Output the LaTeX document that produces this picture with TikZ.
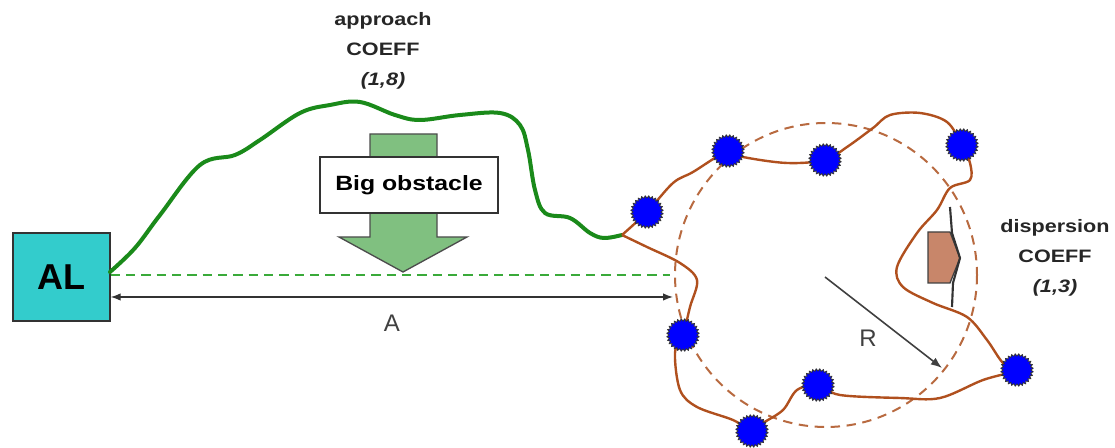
\documentclass[tikz,border=0pt]{standalone}
\usepackage{fontspec}
\setmainfont{Liberation Sans}
\usetikzlibrary{arrows.meta, positioning, shapes.geometric}
\definecolor{alcyan}{HTML}{33CCCC}
\definecolor{routegreen}{HTML}{1A8A1A}
\definecolor{dashgreen}{HTML}{3AAA3A}
\definecolor{obstgreen}{HTML}{80C080}
\definecolor{rimbrown}{HTML}{B0501E}
\definecolor{ringbrown}{HTML}{B86A40}
\definecolor{blockbrown}{HTML}{C8866A}
\newcommand{\wide}[1]{\scalebox{1.2}[1]{#1}}

\begin{document}
\begin{tikzpicture}[
    x=0.75pt, y=-0.75pt, >=Latex,
    coeff/.style={font=\fontsize{13.5}{22.5}\selectfont\bfseries,
        align=center, text=black!85},
    sensor/.style={star, star points=28, star point ratio=0.86,
        minimum size=21pt, inner sep=0pt, fill=blue,
        draw=black!80, line width=0.6pt},
    plain/.style={font=\fontsize{18}{18}\selectfont, text=black!75}
  ]
  \useasboundingbox (0,0) rectangle (1115,448);

  % base and obstacle
  \node[draw=black!80, line width=1pt, fill=alcyan, minimum width=72.75pt,
        minimum height=66pt, font=\fontsize{27}{27}\selectfont\bfseries]
        (al) at (61.5,277) {AL};
  \coordinate (gend) at (670,275);
  \coordinate (aend) at (673,297);
  \draw[dashgreen, line width=1.5pt, dash pattern=on 7pt off 4.5pt]
    (al.east |- gend) -- (gend);
  \draw[<->, black!80, line width=1pt] (al.east |- aend) -- (aend)
    node[plain, midway, below=10pt] (alab) {A};

  \filldraw[fill=obstgreen, draw=black!70, line width=1pt]
    (370,134) -- (437,134) -- (437,237) -- (467,237) -- (403,272)
    -- (339,237) -- (370,237) -- cycle;
  \node[draw=black!80, line width=1pt, fill=white, minimum width=133.5pt,
        minimum height=42pt, font=\fontsize{15.5}{15.5}\selectfont\bfseries]
        (obst) at (409,185) {\wide{Big obstacle}};

  \node[coeff] (appr) at (383,51)
    {\wide{approach}\\\wide{COEFF}\\\wide{\itshape(1,8)}};

  % approach route
  \coordinate (j) at (622,235);
  \draw[routegreen, line width=3pt, line cap=round] plot[smooth, tension=0.6]
    coordinates {(110,272) (135,248) (160,215) (200,165) (235,155)
      (260,140) (300,113) (330,105) (360,102) (395,115) (420,120)
      (460,115) (500,113) (520,125) (528,150) (535,190) (545,213)
      (570,218) (590,233) (604,238) (j)};

  % dispersion area
  \draw[ringbrown, line width=1.5pt, dash pattern=on 7pt off 5pt]
    (826,275) ellipse (151 and 152);
  \foreach \n/\x/\y in {1/647/212, 2/728/151, 3/825/160, 4/962/145,
      5/1017/370, 6/818/385, 7/752/431, 8/683/335}
    \coordinate (s\n) at (\x,\y);
  \draw[rimbrown, line width=1.8pt] plot[smooth, tension=0.55]
    coordinates {(j) (s1) (673,183) (693,172) (s2) (743,157) (787,163)
      (s3) (847,147) (873,128) (890,115) (920,113) (947,122) (s4)
      (970,163) (970,180) (950,188) (937,210) (917,233) (897,267)
      (903,287) (933,303) (967,317) (987,340) (1003,363) (s5)
      (983,380) (940,398) (900,398) (840,395) (s6) (797,390)
      (783,410) (763,423) (s7) (733,420) (697,407) (680,390)
      (675,353) (s8) (690,307) (697,280) (680,263) (647,247) (j)};
  \foreach \n in {1,...,8}
    \node[sensor] (dot\n) at (s\n) {};

  \coordinate (ctr) at (825,277);
  \coordinate (rim) at (942,368);
  \draw[->, black!75, line width=1.2pt] (ctr) -- (rim);
  \node[plain] (rlab) at (868,338) {R};

  \filldraw[fill=blockbrown, draw=black!75, line width=1pt]
    (928,232) -- (950,232) -- (960,258) -- (950,283) -- (928,283) -- cycle;
  \draw[black!80, line width=1.6pt]
    (950,207) -- (952,233) -- (960,258) -- (953,283) -- (952,307);

  \node[coeff] (disp) at (1055,258)
    {\wide{dispersion}\\\wide{COEFF}\\\wide{\itshape(1,3)}};
\end{tikzpicture}
\end{document}
